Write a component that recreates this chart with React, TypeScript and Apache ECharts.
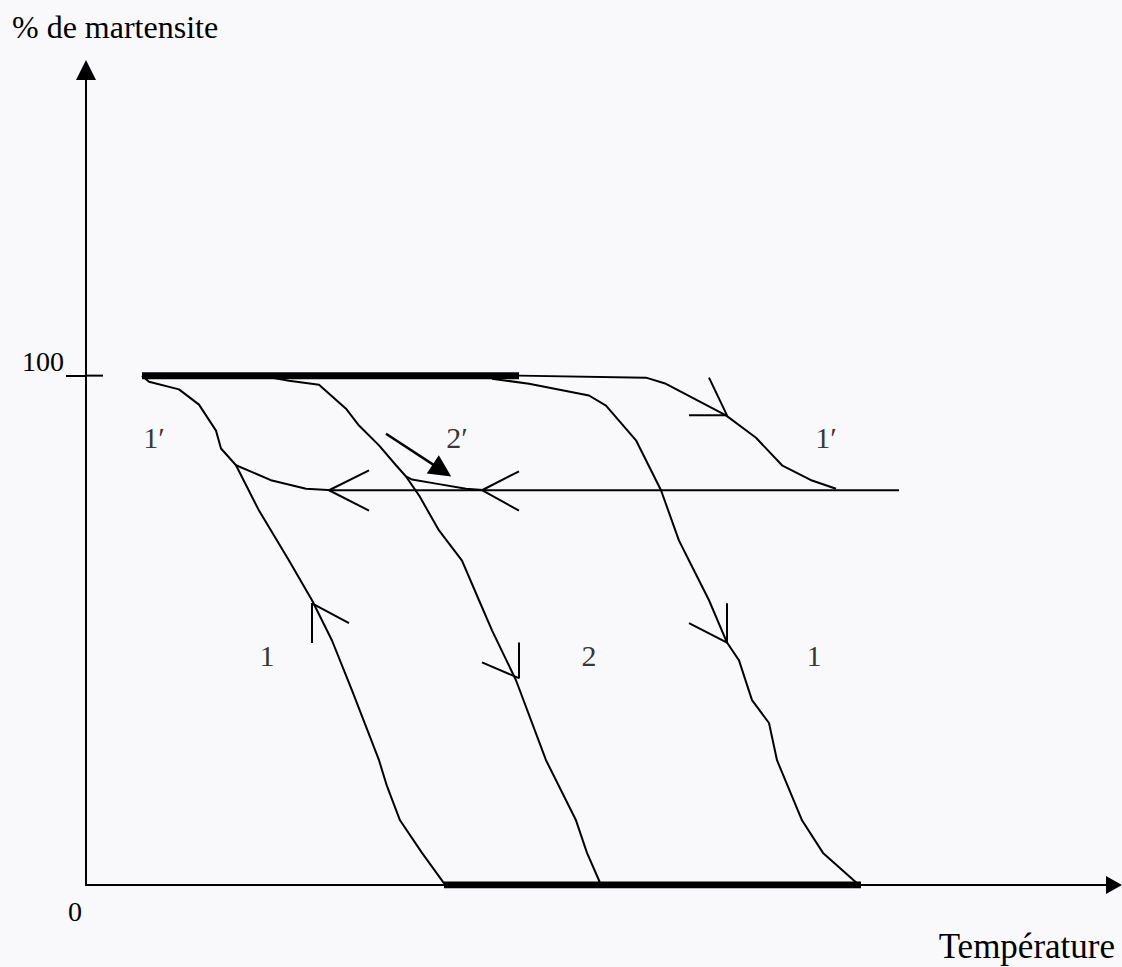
import React, { useEffect, useRef } from "react";
import * as echarts from "echarts";

// ---- texts ----
const yAxisTitle = "% de martensite";
const xAxisTitle = "Température";
const yTickLabels = [100];
const xTickLabels = [0];

// ---- curves: [temperature (arbitrary units), % martensite] ----
const topBarThick = [[56, 100], [433, 100]];
const bottomBarThick = [[358, 0], [775, 0]];
const curve1pRight = [[433, 100], [560, 99.6], [580, 98.4], [640, 92.2], [670, 87.8], [696, 82.4], [726, 79.4], [750, 77.8]];
const horizontalLine = [[246, 77.5], [813, 77.5]];
const curve1Left = [[56, 100], [63, 98.8], [93, 97.3], [113, 94.3], [130, 89.2], [135, 85.7], [150, 82.4], [173, 73.5], [203, 63.7], [226, 55.9], [246, 48.0], [266, 38.2], [293, 24.5], [301, 19.4], [314, 12.7], [336, 6.3], [357, 0.6], [360, 0]];
const branch1pLeft = [[150, 82.4], [186, 79.4], [220, 77.8], [246, 77.5]];
const curve2 = [[181, 99.8], [203, 99.0], [233, 98.2], [260, 93.5], [273, 90.2], [293, 86.3], [310, 82.4], [320, 80.2], [333, 76.5], [353, 69.6], [376, 63.7], [393, 55.9], [406, 50.0], [430, 40.2], [460, 24.5], [490, 12.7], [501, 6.3], [515, 0]];
const branch2p = [[320, 80.2], [326, 79.6], [350, 78.8], [380, 77.8], [400, 77.5]];
const curve1Right = [[406, 99.4], [443, 98.4], [503, 96.1], [520, 94.1], [550, 87.3], [575, 77.5], [593, 67.6], [603, 63.7], [623, 55.9], [641, 47.6], [653, 44.1], [666, 36.3], [683, 31.8], [691, 24.5], [716, 12.7], [737, 6.3], [773, 0]];

// ---- direction arrows (open heads) ----
const arrowHoriz1 = [[283, 81.4], [243, 77.5], [283, 73.5]];
const arrowHoriz2 = [[433, 81.2], [396, 77.5], [433, 73.5]];
const arrowUp1 = [[226, 47.5], [226, 55.3], [263, 51.4]];
const arrowDown2 = [[433, 47.6], [433, 40.6], [396, 43.7]];
const arrowDown1R = [[641, 55.3], [641, 47.6], [603, 51.4]];
const arrow1pR = [[623, 99.6], [641, 92.2], [603, 92.2]];
const filledArrow = [[300, 88.6], [356, 81.4]];
const tick100Inside = [[0, 100], [17, 100]];

// ---- curve labels ----
const curveLabelNames = ["1′", "2′", "1′", "1", "2", "1"];
const curveLabelPos = [[68, 87.8], [371, 87.8], [740, 87.8], [181, 45.1], [503, 45.1], [728, 45.1]];

const INK = "#000000";
const FONT = "'Liberation Serif', 'Times New Roman', serif";

function lineSeries(data: number[][], width = 2) {
  return {
    type: "line",
    data,
    showSymbol: false,
    symbol: "none",
    silent: true,
    lineStyle: { color: INK, width },
    itemStyle: { color: INK },
  };
}

export default function App() {
  const ref = useRef<HTMLDivElement>(null);
  useEffect(() => {
    if (!ref.current) return;
    const chart = echarts.init(ref.current, null, { renderer: "svg" });
    const thin = [curve1pRight, horizontalLine, curve1Left, branch1pLeft, curve2, branch2p, curve1Right,
      arrowHoriz1, arrowHoriz2, arrowUp1, arrowDown2, arrowDown1R, arrow1pR, tick100Inside];
    chart.setOption({
      animation: false,
      backgroundColor: "#f9f9fb",
      grid: { left: 86, right: 8, top: 70, bottom: 82 },
      xAxis: {
        type: "value",
        min: 0,
        max: 1028,
        splitLine: { show: false },
        axisTick: { show: false },
        axisLine: { show: true, lineStyle: { color: INK, width: 2 }, symbol: ["none", "triangle"], symbolSize: [18, 16] },
        axisLabel: {
          customValues: xTickLabels,
          formatter: (v: number) => String(v),
          color: INK, fontSize: 28, fontFamily: FONT, margin: 12, align: "right", padding: [0, 4, 0, 0],
        },
      },
      yAxis: {
        type: "value",
        min: 0,
        max: 160,
        splitLine: { show: false },
        axisLine: { show: true, lineStyle: { color: INK, width: 2 }, symbol: ["none", "triangle"], symbolSize: [20, 20] },
        axisTick: { show: true, customValues: yTickLabels, length: 20, lineStyle: { color: INK, width: 2 } },
        axisLabel: {
          customValues: yTickLabels,
          formatter: (v: number) => String(v),
          color: INK, fontSize: 28, fontFamily: FONT, margin: 22, verticalAlign: "bottom",
        },
      },
      graphic: [
        { type: "text", x: 12, y: 27, style: { text: yAxisTitle, fill: INK, font: `32px ${FONT}`, verticalAlign: "middle" } },
        { type: "text", x: 1115, y: 946, style: { text: xAxisTitle, fill: INK, font: `35px ${FONT}`, align: "right", verticalAlign: "middle" } },
      ],
      series: [
        lineSeries(topBarThick, 7),
        lineSeries(bottomBarThick, 7),
        ...thin.map((d) => lineSeries(d, 2)),
        {
          type: "lines",
          coordinateSystem: "cartesian2d",
          silent: true,
          symbol: ["none", "triangle"],
          symbolSize: 22,
          lineStyle: { color: INK, width: 2.5, opacity: 1 },
          data: [{ coords: filledArrow }],
        },
        {
          type: "scatter",
          symbolSize: 1,
          silent: true,
          itemStyle: { color: "rgba(0,0,0,0)" },
          data: curveLabelNames.map((n, i) => ({ name: n, value: curveLabelPos[i] })),
          label: {
            show: true, position: "inside", formatter: "{b}",
            color: INK, fontSize: 30, fontFamily: FONT,
          },
        },
      ],
    });
    return () => chart.dispose();
  }, []);
  return <div ref={ref} style={{ position: "fixed", left: 0, top: 0, width: 1122, height: 967 }} />;
}
